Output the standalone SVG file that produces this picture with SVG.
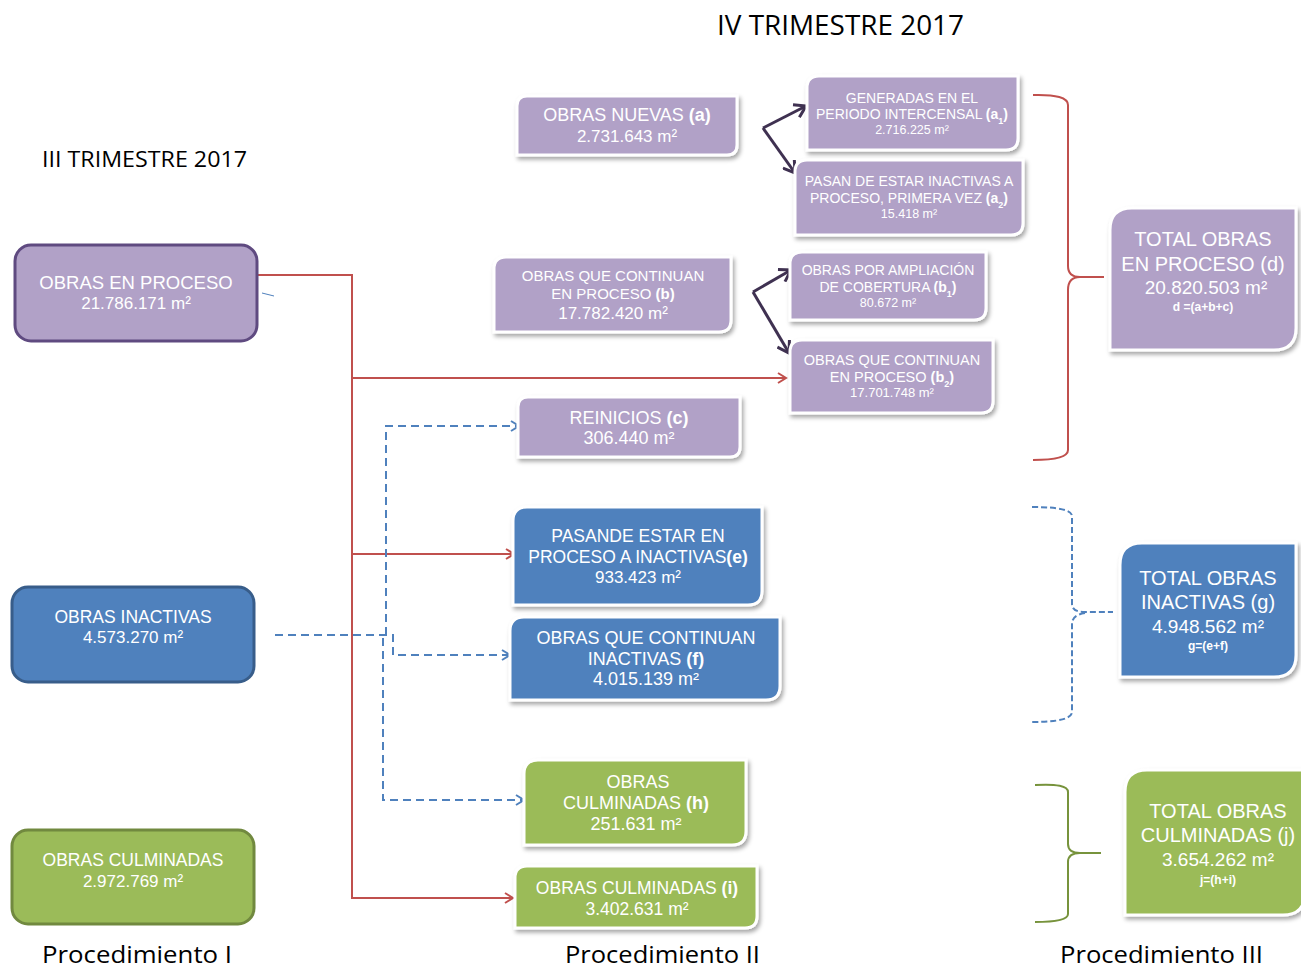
<svg xmlns="http://www.w3.org/2000/svg" width="1301" height="968" viewBox="0 0 1301 968">
<style>
.t{font-family:"Liberation Sans",Arial,sans-serif;fill:#fff;text-anchor:middle}
.b{font-weight:bold}
.pu{fill:#B1A1C7}
.bl{fill:#4F81BD}
.gr{fill:#9BBB59}
.sh{stroke:#fff;stroke-width:3;filter:url(#ds)}
.ttl{font-family:"Open Sans","Liberation Sans",sans-serif;fill:#000}
</style>
<defs>
<filter id="ds" x="-10%" y="-10%" width="125%" height="130%">
<feDropShadow dx="2" dy="3" stdDeviation="2" flood-color="#000" flood-opacity="0.35"/>
</filter>
<marker id="ar" markerWidth="12" markerHeight="12" refX="10" refY="6" orient="auto" markerUnits="userSpaceOnUse">
<path d="M2,1 L10,6 L2,11" fill="none" stroke="#C0504D" stroke-width="2"/>
</marker>
<marker id="ab" markerWidth="12" markerHeight="12" refX="10" refY="6" orient="auto" markerUnits="userSpaceOnUse">
<path d="M2,1 L10,6 L2,11" fill="none" stroke="#4F81BD" stroke-width="2"/>
</marker>
<marker id="ap" markerWidth="16" markerHeight="16" refX="13" refY="8" orient="auto" markerUnits="userSpaceOnUse">
<path d="M2,1 L13,8 L2,15" fill="none" stroke="#3F3151" stroke-width="3"/>
</marker>
</defs>
<rect width="1301" height="968" fill="#fff"/>

<text class="ttl" x="717" y="35" font-size="27" textLength="247" lengthAdjust="spacingAndGlyphs">IV TRIMESTRE 2017</text>
<text class="ttl" x="42" y="167" font-size="22" textLength="205" lengthAdjust="spacingAndGlyphs">III TRIMESTRE 2017</text>
<text class="ttl" x="42" y="963" font-size="24" textLength="190" lengthAdjust="spacingAndGlyphs">Procedimiento I</text>
<text class="ttl" x="565" y="963" font-size="24" textLength="195" lengthAdjust="spacingAndGlyphs">Procedimiento II</text>
<text class="ttl" x="1060" y="963" font-size="24" textLength="203" lengthAdjust="spacingAndGlyphs">Procedimiento III</text>

<g id="connectors" fill="none">
<path d="M257,275 H352 V898 H513" stroke="#C0504D" stroke-width="2" marker-end="url(#ar)"/>
<path d="M352,378 H786" stroke="#C0504D" stroke-width="2" marker-end="url(#ar)"/>
<path d="M352,554 H514" stroke="#C0504D" stroke-width="2" marker-end="url(#ar)"/>
<path d="M275,635 H393 V655 H510" stroke="#4F81BD" stroke-width="2" stroke-dasharray="8,5" marker-end="url(#ab)"/>
<path d="M386,635 V426 H519" stroke="#4F81BD" stroke-width="2" stroke-dasharray="8,5" marker-end="url(#ab)"/>
<path d="M383,638 V800 H524" stroke="#4F81BD" stroke-width="2" stroke-dasharray="8,5" marker-end="url(#ab)"/>
<path d="M262,293 L274,296" stroke="#4F81BD" stroke-width="1"/>
<path d="M763,128 L806,106" stroke="#3F3151" stroke-width="3" marker-end="url(#ap)"/>
<path d="M763,128 L795,173" stroke="#3F3151" stroke-width="3" marker-end="url(#ap)"/>
<path d="M753,292 L791,270" stroke="#3F3151" stroke-width="3" marker-end="url(#ap)"/>
<path d="M753,292 L789,353" stroke="#3F3151" stroke-width="3" marker-end="url(#ap)"/>
<path d="M1033,95 Q1068,94 1068,105 V266 Q1068,277 1080,277 H1104 M1080,277 Q1068,277 1068,290 V450 Q1068,460 1033,460" stroke="#C0504D" stroke-width="2"/>
<path d="M1032,507 Q1072,507 1072,516 V604 Q1072,612 1085,612 H1113 M1085,613 Q1072,615 1072,624 V712 Q1072,722 1032,722" stroke="#4F81BD" stroke-width="2" stroke-dasharray="6,3"/>
<path d="M1035,785 Q1068,783 1068,792 V844 Q1068,853 1080,853 H1101 M1080,853 Q1068,853 1068,862 V914 Q1068,922 1035,922" stroke="#77933C" stroke-width="2"/>
</g>

<g id="n-proceso">
<rect x="15" y="245" width="242" height="96" rx="16" fill="#B1A1C7" stroke="#5F4A80" stroke-width="3"/>
<text class="t" x="136" y="289" font-size="18.5">OBRAS EN PROCESO</text>
<text class="t" x="136" y="309" font-size="17">21.786.171 m²</text>
</g>
<g id="n-inactivas">
<rect x="12" y="587" width="242" height="95" rx="16" fill="#4F81BD" stroke="#385D8A" stroke-width="3"/>
<text class="t" x="133" y="623" font-size="17.5">OBRAS INACTIVAS</text>
<text class="t" x="133" y="643" font-size="17">4.573.270 m²</text>
</g>
<g id="n-culminadas">
<rect x="12" y="830" width="242" height="94" rx="16" fill="#9BBB59" stroke="#71893F" stroke-width="3"/>
<text class="t" x="133" y="866" font-size="17.5">OBRAS CULMINADAS</text>
<text class="t" x="133" y="887" font-size="17">2.972.769 m²</text>
</g>

<g id="n-a">
<path class="pu sh" d="M527,96 H737 V145 Q737,155 727,155 H517 V106 Q517,96 527,96 Z"/>
<text class="t" x="627" y="121" font-size="18">OBRAS NUEVAS <tspan class="b">(a)</tspan></text>
<text class="t" x="627" y="142" font-size="17">2.731.643 m²</text>
</g>
<g id="n-a1">
<path class="pu sh" d="M819,76 H1018 V138 Q1018,150 1006,150 H807 V88 Q807,76 819,76 Z"/>
<text class="t" x="912" y="103" font-size="14">GENERADAS EN EL</text>
<text class="t" x="912" y="119" font-size="14">PERIODO INTERCENSAL  <tspan class="b">(a<tspan font-size="9" baseline-shift="sub">1</tspan>)</tspan></text>
<text class="t" x="912" y="134" font-size="12.5">2.716.225 m²</text>
</g>
<g id="n-a2">
<path class="pu sh" d="M807,160 H1023 V223 Q1023,235 1011,235 H795 V172 Q795,160 807,160 Z"/>
<text class="t" x="909" y="186" font-size="14">PASAN DE ESTAR INACTIVAS  A</text>
<text class="t" x="909" y="203" font-size="14">PROCESO, PRIMERA VEZ   <tspan class="b">(a<tspan font-size="9" baseline-shift="sub">2</tspan>)</tspan></text>
<text class="t" x="909" y="218" font-size="12.5">15.418 m²</text>
</g>
<g id="n-b">
<path class="pu sh" d="M506,257 H731 V320 Q731,332 719,332 H494 V269 Q494,257 506,257 Z"/>
<text class="t" x="613" y="281" font-size="15">OBRAS QUE  CONTINUAN</text>
<text class="t" x="613" y="299" font-size="15">EN PROCESO <tspan class="b">(b)</tspan></text>
<text class="t" x="613" y="319" font-size="17">17.782.420 m²</text>
</g>
<g id="n-b1">
<path class="pu sh" d="M802,252 H986 V308 Q986,320 974,320 H790 V264 Q790,252 802,252 Z"/>
<text class="t" x="888" y="275" font-size="14">OBRAS POR AMPLIACIÓN</text>
<text class="t" x="888" y="292" font-size="14">DE COBERTURA <tspan class="b">(b<tspan font-size="9" baseline-shift="sub">1</tspan>)</tspan></text>
<text class="t" x="888" y="307" font-size="12.5">80.672 m²</text>
</g>
<g id="n-b2">
<path class="pu sh" d="M802,340 H993 V401 Q993,413 981,413 H790 V352 Q790,340 802,340 Z"/>
<text class="t" x="892" y="365" font-size="14.5">OBRAS QUE CONTINUAN</text>
<text class="t" x="892" y="382" font-size="14.5">EN PROCESO <tspan class="b">(b<tspan font-size="9" baseline-shift="sub">2</tspan>)</tspan></text>
<text class="t" x="892" y="397" font-size="13">17.701.748 m²</text>
</g>
<g id="n-c">
<path class="pu sh" d="M528,397 H740 V447 Q740,457 730,457 H518 V407 Q518,397 528,397 Z"/>
<text class="t" x="629" y="424" font-size="18">REINICIOS <tspan class="b">(c)</tspan></text>
<text class="t" x="629" y="444" font-size="18">306.440 m²</text>
</g>
<g id="n-e">
<path class="bl sh" d="M527,507 H762 V591 Q762,605 748,605 H513 V521 Q513,507 527,507 Z"/>
<text class="t" x="638" y="542" font-size="17.5">PASANDE ESTAR EN</text>
<text class="t" x="638" y="563" font-size="17.5">PROCESO A INACTIVAS<tspan class="b">(e)</tspan></text>
<text class="t" x="638" y="583" font-size="17">933.423 m²</text>
</g>
<g id="n-f">
<path class="bl sh" d="M524,617 H780 V686 Q780,700 766,700 H510 V631 Q510,617 524,617 Z"/>
<text class="t" x="646" y="644" font-size="18">OBRAS QUE CONTINUAN</text>
<text class="t" x="646" y="665" font-size="18">INACTIVAS <tspan class="b">(f)</tspan></text>
<text class="t" x="646" y="685" font-size="18">4.015.139  m²</text>
</g>
<g id="n-h">
<path class="gr sh" d="M538,760 H746 V831 Q746,845 732,845 H524 V774 Q524,760 538,760 Z"/>
<text class="t" x="638" y="788" font-size="18">OBRAS</text>
<text class="t" x="636" y="809" font-size="18">CULMINADAS <tspan class="b">(h)</tspan></text>
<text class="t" x="636" y="830" font-size="18">251.631  m²</text>
</g>
<g id="n-i">
<path class="gr sh" d="M527,866 H757 V916 Q757,928 745,928 H515 V878 Q515,866 527,866 Z"/>
<text class="t" x="637" y="894" font-size="17.5">OBRAS CULMINADAS <tspan class="b">(i)</tspan></text>
<text class="t" x="637" y="915" font-size="17.5">3.402.631 m²</text>
</g>
<g id="n-d">
<path class="pu sh" d="M1132,208 H1296 V328 Q1296,350 1274,350 H1110 V230 Q1110,208 1132,208 Z"/>
<text class="t" x="1203" y="246" font-size="20">TOTAL  OBRAS</text>
<text class="t" x="1203" y="271" font-size="20">EN PROCESO (d)</text>
<text class="t" x="1206" y="294" font-size="19">20.820.503 m²</text>
<text class="t b" x="1203" y="311" font-size="12">d =(a+b+c)</text>
</g>
<g id="n-g">
<path class="bl sh" d="M1142,543 H1296 V655 Q1296,677 1274,677 H1120 V565 Q1120,543 1142,543 Z"/>
<text class="t" x="1208" y="585" font-size="20">TOTAL  OBRAS</text>
<text class="t" x="1208" y="609" font-size="20">INACTIVAS  (g)</text>
<text class="t" x="1208" y="633" font-size="19">4.948.562 m²</text>
<text class="t b" x="1208" y="650" font-size="12">g=(e+f)</text>
</g>
<g id="n-j">
<path class="gr sh" d="M1147,770 H1305 V893 Q1305,915 1283,915 H1125 V792 Q1125,770 1147,770 Z"/>
<text class="t" x="1218" y="818" font-size="20">TOTAL  OBRAS</text>
<text class="t" x="1218" y="842" font-size="20">CULMINADAS  (j)</text>
<text class="t" x="1218" y="866" font-size="19">3.654.262 m²</text>
<text class="t b" x="1218" y="884" font-size="12">j=(h+i)</text>
</g>
</svg>
